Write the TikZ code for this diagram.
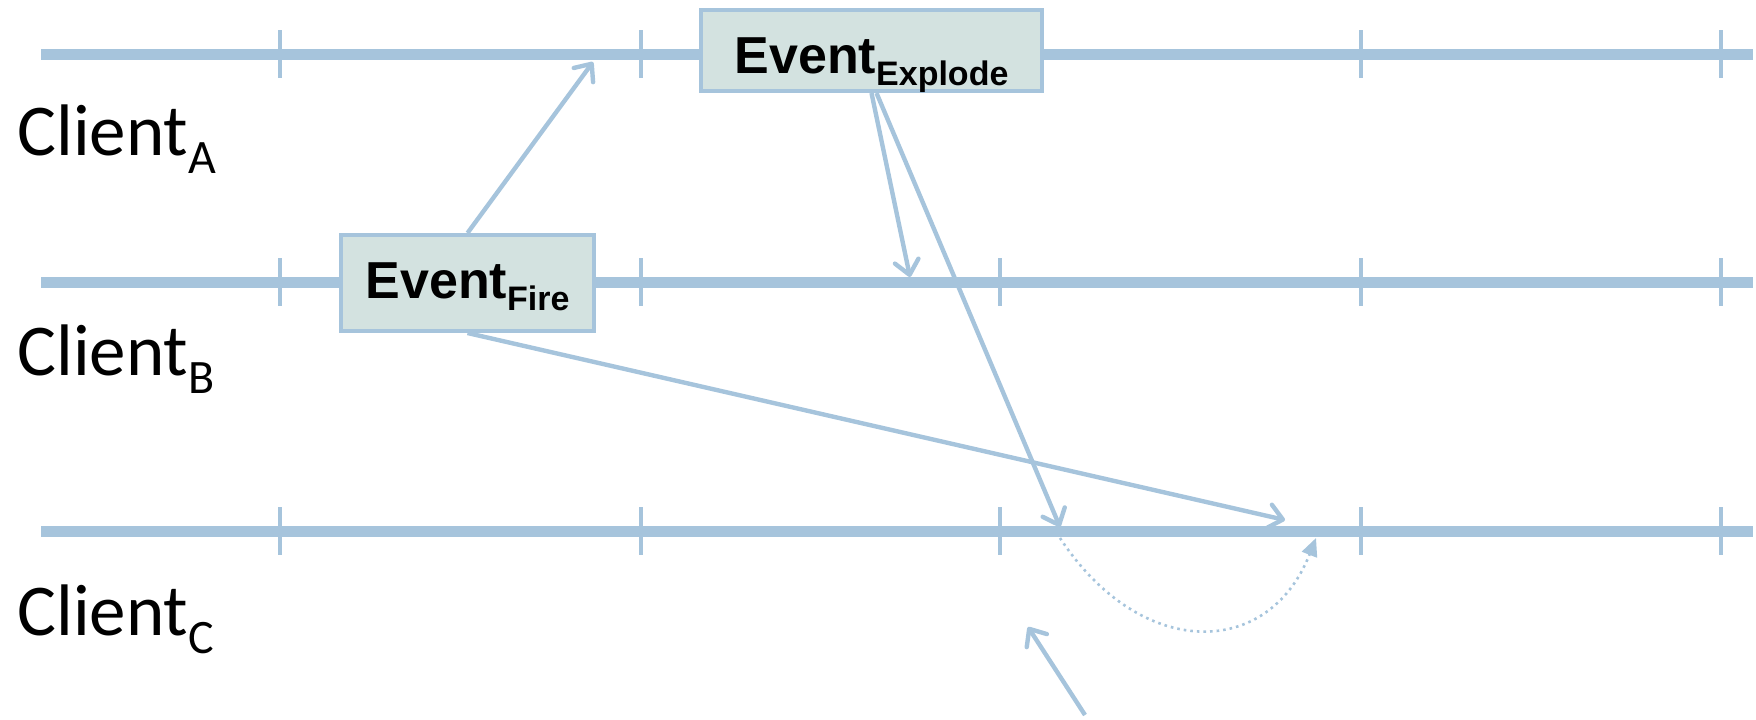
\documentclass[tikz,border=0pt]{standalone}
\usepackage{fontspec}
\setmainfont{Carlito}
\newfontfamily\evfont{Liberation Sans}
\usetikzlibrary{arrows.meta}
\definecolor{timeBlue}{RGB}{166,196,220}
\definecolor{eventFill}{RGB}{211,226,224}

\newcommand{\clientsub}[1]{\raisebox{-9pt}{\fontsize{24}{24}\selectfont #1}}
\newcommand{\eventsub}[1]{\raisebox{-6pt}{\fontsize{17}{17}\selectfont #1}}

\begin{document}
\begin{tikzpicture}[
        x=0.5pt, y=-0.5pt,
        timeline/.style={line width=5.5pt, timeBlue},
        tickmark/.style={line width=2.4pt, timeBlue},
        event/.style={rectangle, draw=timeBlue, line width=2pt, fill=eventFill, inner sep=0pt, font=\evfont\bfseries\fontsize{26}{26}\selectfont},
        client/.style={anchor=base west, inner sep=0pt, font=\fontsize{36.5}{36.5}\selectfont},
        msg/.style={-{Straight Barb[length=7pt, width=12pt, round]}, line width=2.2pt, timeBlue},
        hop/.style={-{Triangle[length=9pt, width=8pt]}, line width=1.3pt, dotted, timeBlue}
    ]
        \useasboundingbox (0,0) rectangle (1756,719);

        % Timelines
        \foreach \name/\y in {A/54, B/282, C/531} {
            \draw[timeline] (41,\y) -- (1753,\y);
            \foreach \x in {280, 641, 1000, 1361, 1721}
                \draw[tickmark] (\x,\y-24) -- (\x,\y+24);
        }

        % Client labels
        \node[client] (clientA) at (17,155) {Client\clientsub{A}};
        \node[client] (clientB) at (17,375) {Client\clientsub{B}};
        \node[client] (clientC) at (17,635) {Client\clientsub{C}};

        % Event nodes
        \node[event, minimum width=170.5pt, text height=31.5pt, text depth=9pt] (explode) at (871.5,50.5) {Event\eventsub{Explode}};
        \node[event, minimum width=126.5pt, text height=31.5pt, text depth=16.5pt] (fire) at (467.5,283) {Event\eventsub{Fire}};

        % Arrival points
        \coordinate (arriveA) at (593,62);
        \coordinate (arriveB) at (910,277);
        \coordinate (arriveC) at (1060,527);
        \coordinate (fireC) at (1285,520);
        \coordinate (hopStart) at (1060,538);
        \coordinate (hopEnd) at (1316,538);
        \coordinate (noteTail) at (1085,715);
        \coordinate (noteTip) at (1028,627);

        % Arrows
        \draw[msg] (fire.north) -- (arriveA);
        \draw[msg] (explode.south) -- (arriveB);
        \draw[msg] ([xshift=2.5pt]explode.south) -- (arriveC);
        \draw[msg] (fire.south) -- (fireC);
        \draw[hop] (hopStart) .. controls (1140,660) and (1268,660) .. (hopEnd);
        \draw[msg] (noteTail) -- (noteTip);
    \end{tikzpicture}
\end{document}
